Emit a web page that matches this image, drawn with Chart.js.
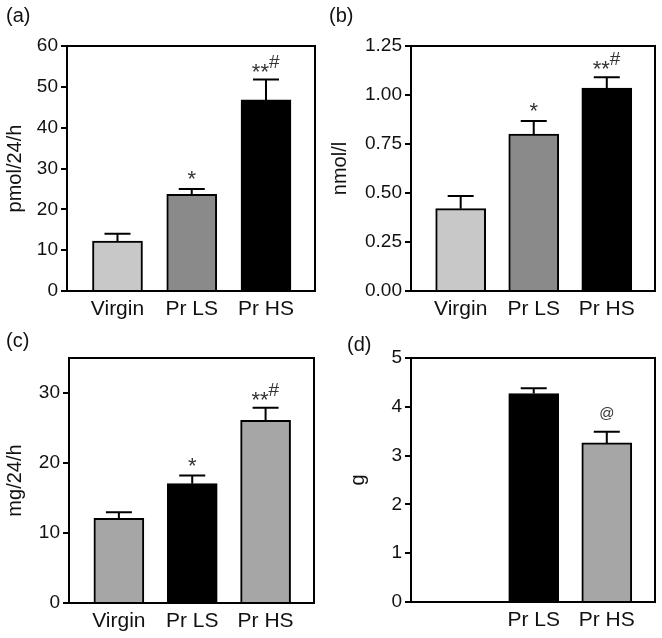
<!DOCTYPE html>
<html>
<head>
<meta charset="utf-8">
<script src="https://cdn.jsdelivr.net/npm/chart.js@4.4.0/dist/chart.umd.min.js"></script>
<style>
  body { margin: 0; background: #fff; }
  #page { position: relative; width: 662px; height: 638px; overflow: hidden; }
  canvas { position: absolute; }
</style>
</head>
<body>
<div id="page">
  <canvas id="chartA" width="331" height="319" style="left:0;top:0"></canvas>
  <canvas id="chartB" width="337" height="319" style="left:325px;top:0"></canvas>
  <canvas id="chartC" width="331" height="319" style="left:0;top:319px"></canvas>
  <canvas id="chartD" width="319" height="319" style="left:343px;top:319px"></canvas>
</div>
<script>
// groups on the x axis
const groups = ["Virgin", "Pr LS", "Pr HS"];
const groupsD = ["", "Pr LS", "Pr HS"];

// (a) pmol/24/h
const valuesA = [12.2, 23.7, 46.8];
const errorsA = [1.8, 1.3, 5.0];
const marksA = ["", "*", "**#"];
const ticksA = [0, 10, 20, 30, 40, 50, 60];

// (b) nmol/l
const valuesB = [0.42, 0.80, 1.035];
const errorsB = [0.065, 0.067, 0.056];
const marksB = ["", "*", "**#"];
const ticksB = [0, 0.25, 0.5, 0.75, 1.0, 1.25];

// (c) mg/24/h
const valuesC = [12.1, 17.05, 26.1];
const errorsC = [0.85, 1.15, 1.8];
const marksC = ["", "*", "**#"];
const ticksC = [0, 10, 20, 30];

// (d) g
const valuesD = [null, 4.27, 3.26];
const errorsD = [null, 0.11, 0.23];
const marksD = ["", "", "@"];
const ticksD = [0, 1, 2, 3, 4, 5];

const FONT = "'Liberation Sans', Arial, Helvetica, sans-serif";
const INK = "#111";

// draws top/right frame, error bars, significance marks and panel letter
const extrasPlugin = {
  id: "extras",
  afterDatasetsDraw(chart, args, opts) {
    const ctx = chart.ctx;
    const x = chart.scales.x, y = chart.scales.y;
    const area = chart.chartArea;
    ctx.save();
    ctx.strokeStyle = "#000";
    ctx.lineWidth = 2;
    ctx.strokeRect(area.left, area.top, area.right - area.left, area.bottom - area.top);

    opts.values.forEach((v, i) => {
      if (v == null) return;
      const px = x.getPixelForValue(i);
      const yBar = y.getPixelForValue(v);
      const yTop = y.getPixelForValue(v + opts.errors[i]);
      ctx.beginPath();
      ctx.moveTo(px, yBar);
      ctx.lineTo(px, yTop);
      ctx.moveTo(px - 13, yTop);
      ctx.lineTo(px + 13, yTop);
      ctx.stroke();

      const m = opts.marks[i];
      ctx.fillStyle = "#333";
      ctx.textBaseline = "middle";
      if (m === "*") {
        ctx.font = "22px " + FONT;
        ctx.textAlign = "center";
        ctx.fillText("*", px, yTop - 9);
      } else if (m === "**#") {
        ctx.font = "22px " + FONT;
        ctx.textAlign = "right";
        ctx.fillText("**", px + 3, yTop - 7);
        ctx.font = "19px " + FONT;
        ctx.textAlign = "left";
        ctx.fillText("#", px + 3, yTop - 17);
      } else if (m === "@") {
        ctx.font = "15px " + FONT;
        ctx.textAlign = "center";
        ctx.fillText("@", px, yTop - 18);
      }
    });

    ctx.fillStyle = INK;
    ctx.font = "20px " + FONT;
    ctx.textAlign = "left";
    ctx.textBaseline = "middle";
    ctx.fillText(opts.letter, opts.letterX, opts.letterY);
    ctx.restore();
  }
};

function makePanel(id, p) {
  const el = document.getElementById(id);
  const W = el.width, H = el.height;
  new Chart(el.getContext("2d"), {
    type: "bar",
    data: {
      datasets: [{
        data: p.values.map((v, i) => ({ x: i, y: v })),
        backgroundColor: p.colors,
        borderColor: "#000",
        borderWidth: 2,
        barThickness: 50
      }]
    },
    options: {
      responsive: false,
      animation: false,
      layout: { padding: { left: 0, top: p.top, right: W - p.right, bottom: 0 } },
      plugins: {
        legend: { display: false },
        tooltip: { enabled: false },
        extras: {
          values: p.values, errors: p.errors, marks: p.marks,
          letter: p.letter, letterX: p.letterX, letterY: p.letterY
        }
      },
      scales: {
        x: {
          type: "linear",
          min: -0.68,
          max: 2.66,
          offset: false,
          grid: { display: true, drawOnChartArea: false, drawTicks: false },
          border: { display: true, color: "#000", width: 2 },
          afterBuildTicks: (s) => { s.ticks = p.labels.map((l, i) => ({ value: i })); },
          afterFit: (s) => { s.height = H - p.bottom; },
          ticks: {
            autoSkip: false,
            maxRotation: 0,
            padding: 6,
            color: INK,
            font: { family: FONT, size: 21 },
            callback: (v) => p.labels[v]
          }
        },
        y: {
          min: 0,
          max: p.max,
          afterBuildTicks: (s) => { s.ticks = p.ticks.map((t) => ({ value: t })); },
          afterFit: (s) => { s.width = p.left; },
          grid: { display: true, drawOnChartArea: false, drawTicks: true, tickLength: 6, color: "#000", lineWidth: 2 },
          border: { display: true, color: "#000", width: 2 },
          ticks: {
            padding: 3,
            color: INK,
            font: { family: FONT, size: 19 },
            callback: p.fmt
          },
          title: {
            display: true,
            text: p.title,
            color: INK,
            padding: { top: 3, bottom: 0 },
            font: { family: FONT, size: 20 }
          }
        }
      }
    },
    plugins: [extrasPlugin]
  });
}

makePanel("chartA", {
  values: valuesA, errors: errorsA, marks: marksA, labels: groups, ticks: ticksA,
  colors: ["#c8c8c8", "#8a8a8a", "#000"], max: 60, title: "pmol/24/h",
  fmt: (v) => v, left: 67, right: 315, top: 46, bottom: 291,
  letter: "(a)", letterX: 6, letterY: 16
});
makePanel("chartB", {
  values: valuesB, errors: errorsB, marks: marksB, labels: groups, ticks: ticksB,
  colors: ["#c8c8c8", "#8a8a8a", "#000"], max: 1.25, title: "nmol/l",
  fmt: (v) => v.toFixed(2), left: 86, right: 330, top: 46, bottom: 291,
  letter: "(b)", letterX: 4, letterY: 16
});
makePanel("chartC", {
  values: valuesC, errors: errorsC, marks: marksC, labels: groups, ticks: ticksC,
  colors: ["#a6a6a6", "#000", "#a6a6a6"], max: 35, title: "mg/24/h",
  fmt: (v) => v, left: 69, right: 314, top: 39, bottom: 284,
  letter: "(c)", letterX: 6, letterY: 22
});
makePanel("chartD", {
  values: valuesD, errors: errorsD, marks: marksD, labels: groupsD, ticks: ticksD,
  colors: ["#a6a6a6", "#000", "#a6a6a6"], max: 5, title: "g",
  fmt: (v) => v, left: 68, right: 312, top: 39, bottom: 283,
  letter: "(d)", letterX: 4, letterY: 26
});
</script>
</body>
</html>
